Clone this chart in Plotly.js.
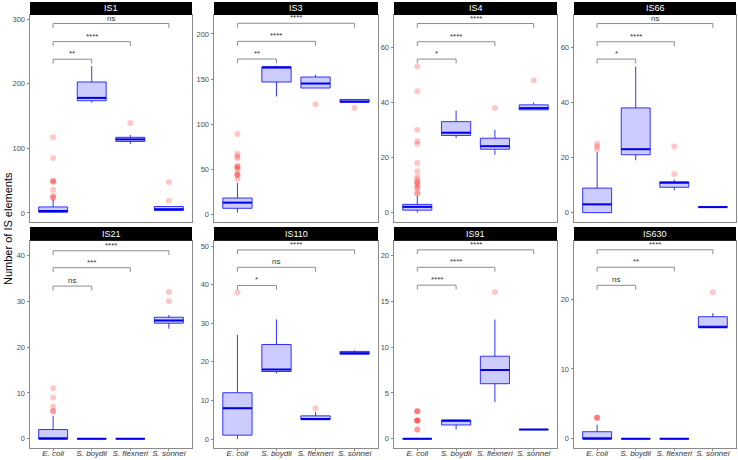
<!DOCTYPE html>
<html>
<head>
<meta charset="utf-8">
<script src="https://cdn.plot.ly/plotly-3.0.1.min.js"></script>
<style>html,body{margin:0;padding:0;background:#fff;}#chart{width:738px;height:460px;}</style>
</head>
<body>
<div id="chart"></div>
<script>
// ---------------- DATA ----------------
const categories = ["E. coli", "S. boydii", "S. flexneri", "S. sonnei"];
const panels = ["IS1", "IS3", "IS4", "IS66", "IS21", "IS110", "IS91", "IS630"];

const q1Values = [
  [1, 173.6, 110.6, 3.7],
  [6.6, 146.7, 140, 124.4],
  [0.9, 28, 23, 37.3],
  [0, 21, 9.2, 2],
  [0, 0, 0, 25.2],
  [1, 17.5, 5, 22],
  [0, 1.5, 6, 1],
  [0, 0, 0, 16]
];
const medianValues = [
  [3, 178, 113.8, 5.7],
  [12.9, 163, 145, 124.8],
  [2.1, 29, 24.1, 37.9],
  [3, 23, 10.9, 2],
  [0, 0, 0, 25.8],
  [8, 18, 5.2, 22.2],
  [0, 2, 7.5, 1],
  [0, 0, 0, 16]
];
const q3Values = [
  [9.3, 202.6, 117, 10],
  [18, 163.3, 152.2, 127.3],
  [3, 33, 27, 39.1],
  [8.9, 38, 11.1, 2],
  [2, 0, 0, 26.5],
  [12, 24.5, 6, 22.7],
  [0, 2, 9, 1],
  [1, 0, 0, 17.5]
];
const lowerWhisker = [
  [0, 170.5, 106.5, 3.5],
  [1.8, 130.7, 140, 124.4],
  [0, 27, 21, 37.3],
  [0, 19, 8, 2],
  [0, 0, 0, 24],
  [0, 17, 5, 22],
  [0, 1, 4, 1],
  [0, 0, 0, 16]
];
const upperWhisker = [
  [21, 227, 120.5, 10.5],
  [34.8, 164.8, 155, 127.3],
  [6, 37, 30, 40],
  [22, 53, 12, 2],
  [5, 0, 0, 27],
  [27, 31, 7, 23],
  [0, 2, 13, 1],
  [2, 0, 0, 18]
];
const outlierValues = [
  [[117, 85, 50, 49, 48, 36, 27, 24, 23], [], [139], [48, 19]],
  [[89, 67, 64, 62, 54, 52, 52, 50, 45, 44, 43, 39], [], [122], [118]],
  [[53, 44, 30, 26, 25, 18, 15, 13, 12, 11, 11, 10, 9, 9, 7, 7], [], [38], [48]],
  [[25, 24, 23], [], [24, 14], []],
  [[11, 9, 7, 6, 6], [], [], [32, 30]],
  [[38], [], [8], []],
  [[3, 3, 3, 2, 2, 2, 2, 1, 1], [], [16], []],
  [[3, 3, 3], [], [], [21]]
];
// significance brackets: E. coli vs S. boydii, vs S. flexneri, vs S. sonnei
const bracketY = [
  [237.8, 265, 293],
  [172.2, 191.8, 211.8],
  [55.7, 62.0, 68.6],
  [55.7, 62.0, 68.6],
  [33.3, 37.3, 41.0],
  [39.8, 44.5, 49.0],
  [16.75, 18.7, 20.6],
  [22.0, 24.6, 27.1]
];
const bracketLabels = [
  ["**", "****", "ns"],
  ["**", "****", "****"],
  ["*", "****", "****"],
  ["*", "****", "ns"],
  ["ns", "***", "****"],
  ["*", "ns", "****"],
  ["****", "****", "****"],
  ["ns", "**", "****"]
];
const yTickStep = [100, 50, 20, 20, 10, 10, 5, 10];

// ---------------- LAYOUT / STYLE ----------------
const W = 738, H = 460;
const colPx = [[30, 192], [214, 378], [394, 557], [574, 736]];
const rowPx = [[15, 222], [240.7, 447.7]];
const stripPx = [[2, 15], [227, 240.7]];
const yRanges = [
  [-14, 306.2], [-8.6, 221], [-3.4, 71.7], [-3.4, 71.7],
  [-1.96, 43.2], [-2.25, 51.4], [-0.98, 21.6], [-1.29, 28.4]
];
const FONT = "Liberation Sans, Arial, sans-serif";
const borderColor = "#8a8a8a";
const xPos = categories.map((c, i) => i);
const boxPx = 29; // box width in px (0.75 of a category step)

const traces = [];
const annotations = [];
const shapes = [];
const layout = {
  width: W, height: H,
  margin: {l: 0, r: 0, t: 0, b: 0},
  paper_bgcolor: "#fff", plot_bgcolor: "#fff",
  showlegend: false,
  font: {family: FONT, color: "#4d4d4d"},
  boxmode: "overlay"
};

panels.forEach((name, i) => {
  const r = Math.floor(i / 4), c = i % 4;
  const n = i === 0 ? "" : String(i + 1);
  const xa = "x" + n, ya = "y" + n;
  const dx = [colPx[c][0] / W, colPx[c][1] / W];
  const dy = [1 - rowPx[r][1] / H, 1 - rowPx[r][0] / H];

  layout["xaxis" + n] = {
    domain: dx, anchor: ya, range: [-0.6, 3.6],
    tickmode: "array", tickvals: xPos,
    ticktext: categories.map(s => "<i>" + s + "</i>"),
    showticklabels: r === 1,
    ticks: r === 1 ? "outside" : "", ticklen: 2.5, tickcolor: borderColor,
    ticklabelstandoff: -5,
    tickfont: {size: 8, color: "#333", family: FONT},
    showline: true, mirror: true, linecolor: borderColor, linewidth: 1,
    showgrid: false, zeroline: false, fixedrange: true
  };
  layout["yaxis" + n] = {
    domain: dy, anchor: xa, range: yRanges[i], dtick: yTickStep[i], tick0: 0,
    ticks: "outside", ticklen: 2.5, tickcolor: borderColor,
    tickfont: {size: 7.5, color: "#4d4d4d", family: FONT},
    showline: true, mirror: true, linecolor: borderColor, linewidth: 1,
    showgrid: false, zeroline: false, fixedrange: true
  };

  // box
  traces.push({
    type: "box", xaxis: xa, yaxis: ya,
    x: xPos, q1: q1Values[i], median: medianValues[i], q3: q3Values[i],
    lowerfence: lowerWhisker[i], upperfence: upperWhisker[i],
    width: 0.75, whiskerwidth: 0, boxpoints: false,
    fillcolor: "rgba(0,0,255,0.2)",
    line: {color: "rgba(30,30,255,0.9)", width: 1},
    hoverinfo: "skip"
  });
  // thick median line (line-ew symbol length = 1.4 * size)
  traces.push({
    type: "scatter", mode: "markers", xaxis: xa, yaxis: ya,
    x: xPos, y: medianValues[i],
    marker: {symbol: "line-ew", size: boxPx / 1.4, color: "#0000e6", line: {color: "#0000e6", width: 2}},
    hoverinfo: "skip"
  });
  // outliers
  const ox = [], oy = [];
  outlierValues[i].forEach((vals, k) => vals.forEach(v => { ox.push(k); oy.push(v); }));
  traces.push({
    type: "scatter", mode: "markers", xaxis: xa, yaxis: ya,
    x: ox, y: oy,
    marker: {color: "rgba(255,0,0,0.22)", size: 6, line: {width: 0}},
    hoverinfo: "skip"
  });
  // brackets
  const span = yRanges[i][1] - yRanges[i][0];
  const drop = span * 0.021;
  const bx = [], by = [];
  bracketY[i].forEach((yv, k) => {
    const x2 = k + 1;
    bx.push(0, 0, x2, x2, null);
    by.push(yv - drop, yv, yv, yv - drop, null);
    annotations.push({
      xref: xa, yref: ya, x: x2 / 2, y: yv, yanchor: "bottom", xanchor: "center",
      text: bracketLabels[i][k], showarrow: false, yshift: -1,
      font: {size: 8, color: "#333", family: FONT}
    });
  });
  traces.push({
    type: "scatter", mode: "lines", xaxis: xa, yaxis: ya,
    x: bx, y: by, line: {color: "#8c8c8c", width: 1}, hoverinfo: "skip",
    connectgaps: false
  });

  // strip
  shapes.push({
    type: "rect", xref: "paper", yref: "paper",
    x0: dx[0], x1: dx[1], y0: 1 - stripPx[r][1] / H, y1: 1 - stripPx[r][0] / H,
    fillcolor: "#000", line: {width: 0}, layer: "above"
  });
  annotations.push({
    xref: "paper", yref: "paper", x: (dx[0] + dx[1]) / 2,
    y: 1 - (stripPx[r][0] + stripPx[r][1]) / 2 / H,
    xanchor: "center", yanchor: "middle", showarrow: false,
    text: name, font: {size: 9, color: "#fff", family: FONT, weight: "normal"}
  });
});

annotations.push({
  xref: "paper", yref: "paper", x: 8 / W, y: 1 - 229 / H,
  xanchor: "center", yanchor: "middle", showarrow: false, textangle: -90,
  text: "Number of IS elements", font: {size: 11, color: "#000", family: FONT}
});

layout.annotations = annotations;
layout.shapes = shapes;

Plotly.newPlot("chart", traces, layout, {staticPlot: true, displayModeBar: false});
</script>
</body>
</html>
